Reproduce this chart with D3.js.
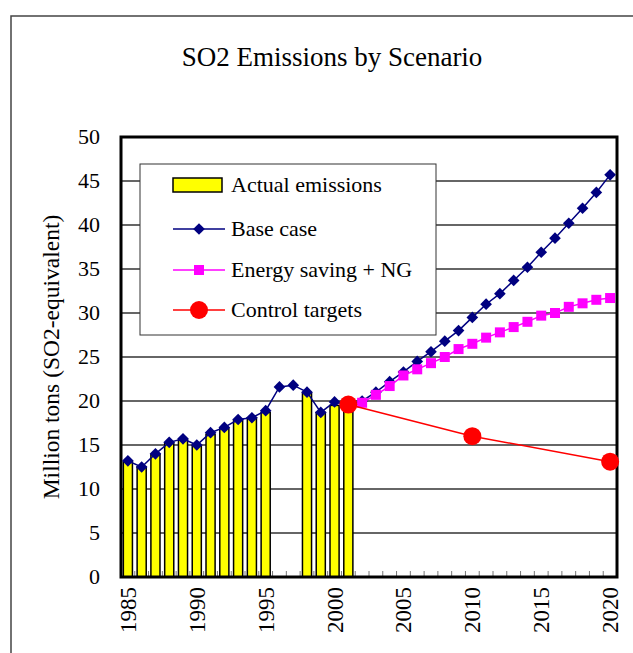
<!DOCTYPE html>
<html>
<head>
<meta charset="utf-8">
<script src="https://cdn.jsdelivr.net/npm/d3@7"></script>
<style>
  body { margin: 0; background: #fff; }
  text { font-family: "Liberation Serif", "Times New Roman", serif; fill: #000; }
</style>
</head>
<body>
<script>
// years on the category axis
var years = d3.range(1985, 2021);
var tickYears = [1985, 1990, 1995, 2000, 2005, 2010, 2015, 2020];
var yTicks = [0, 5, 10, 15, 20, 25, 30, 35, 40, 45, 50];

// actual emissions (bars), null where no bar
var actual = [13.1, 12.5, 13.9, 15.2, 15.6, 14.9, 16.2, 16.9, 17.8, 18.1, 18.7,
  null, null, 20.9, 18.7, 19.5, 19.3];

// base case 1985-2020
var baseCase = [13.2, 12.5, 14.0, 15.3, 15.7, 15.0, 16.4, 17.0, 17.9, 18.1, 18.9,
  21.6, 21.8, 21.0, 18.7, 19.9, 19.5, 20.0, 21.0, 22.2, 23.3, 24.5, 25.6, 26.8,
  28.0, 29.5, 31.0, 32.2, 33.7, 35.2, 36.9, 38.5, 40.2, 41.9, 43.7, 45.7];

// energy saving + NG, 2001-2020
var energyYears = d3.range(2001, 2021);
var energy = [19.5, 19.8, 20.7, 21.7, 22.9, 23.6, 24.3, 25.0, 25.9, 26.5, 27.2,
  27.8, 28.4, 29.0, 29.7, 30.0, 30.7, 31.1, 31.5, 31.7];

// control targets
var targetYears = [2001, 2010, 2020];
var targets = [19.6, 16.0, 13.1];

var width = 633, height = 653;
// plot area edges
var pLeft = 121, pRight = 617, pTop = 137, pBottom = 577;

var svg = d3.select('body').append('svg')
  .attr('width', width)
  .attr('height', height);

// outer chart frame
svg.append('rect')
  .attr('x', 11).attr('y', 16)
  .attr('width', 640).attr('height', 660)
  .attr('fill', 'none')
  .attr('stroke', '#444')
  .attr('stroke-width', 1.5);

svg.append('text')
  .attr('x', 332).attr('y', 66)
  .attr('text-anchor', 'middle')
  .style('font-size', '27px')
  .text('SO2 Emissions by Scenario');

var x = d3.scaleBand()
  .domain(years)
  .range([pLeft, pRight])
  .paddingInner(0.34)
  .paddingOuter(0.17);

var y = d3.scaleLinear()
  .domain([0, 50])
  .range([pBottom, pTop]);

function cx(yr) { return x(yr) + x.bandwidth() / 2; }

// gridlines
svg.append('g')
  .selectAll('line')
  .data(yTicks.slice(1, -1))
  .enter().append('line')
  .attr('x1', pLeft).attr('x2', pRight)
  .attr('y1', function(d) { return y(d); })
  .attr('y2', function(d) { return y(d); })
  .attr('stroke', '#333')
  .attr('stroke-width', 1.3);

// y axis labels
svg.append('g')
  .selectAll('text')
  .data(yTicks)
  .enter().append('text')
  .attr('x', 100)
  .attr('y', function(d) { return y(d) + 7; })
  .attr('text-anchor', 'end')
  .style('font-size', '22px')
  .text(function(d) { return d; });

svg.append('text')
  .attr('transform', 'translate(59,' + (pTop + pBottom) / 2 + ') rotate(-90)')
  .attr('text-anchor', 'middle')
  .style('font-size', '23.5px')
  .text('Million tons (SO2-equivalent)');

// bottom category ticks
var step = x.step();
svg.append('g')
  .selectAll('line')
  .data(d3.range(1, years.length))
  .enter().append('line')
  .attr('x1', function(i) { return pLeft + i * step; })
  .attr('x2', function(i) { return pLeft + i * step; })
  .attr('y1', pBottom).attr('y2', pBottom - 6)
  .attr('stroke', '#777')
  .attr('stroke-width', 1);

// bars
svg.append('g')
  .selectAll('rect')
  .data(actual.map(function(v, i) { return { year: 1985 + i, v: v }; })
    .filter(function(d) { return d.v != null; }))
  .enter().append('rect')
  .attr('x', function(d) { return x(d.year); })
  .attr('width', x.bandwidth())
  .attr('y', function(d) { return y(d.v); })
  .attr('height', function(d) { return pBottom - y(d.v); })
  .attr('fill', '#ffff00')
  .attr('stroke', '#000')
  .attr('stroke-width', 1.5);

// plot frame
svg.append('rect')
  .attr('x', pLeft).attr('y', pTop)
  .attr('width', pRight - pLeft).attr('height', pBottom - pTop)
  .attr('fill', 'none')
  .attr('stroke', '#000')
  .attr('stroke-width', 3);

// x tick labels
svg.append('g')
  .selectAll('text')
  .data(tickYears)
  .enter().append('text')
  .attr('transform', function(d) { return 'translate(' + (cx(d) + 8) + ',' + (pBottom + 10) + ') rotate(-90)'; })
  .attr('text-anchor', 'end')
  .style('font-size', '23px')
  .text(function(d) { return d; });

var line = d3.line()
  .x(function(d) { return cx(d[0]); })
  .y(function(d) { return y(d[1]); });

var basePts = years.map(function(yr, i) { return [yr, baseCase[i]]; });
var energyPts = energyYears.map(function(yr, i) { return [yr, energy[i]]; });
var targetPts = targetYears.map(function(yr, i) { return [yr, targets[i]]; });

var diamond = d3.symbol().type(d3.symbolSquare).size(68);
var sq = 10;

function drawBase(g, pts) {
  g.append('path').datum(pts)
    .attr('d', line).attr('fill', 'none')
    .attr('stroke', '#000080').attr('stroke-width', 1.5);
  g.selectAll('path.m').data(pts).enter().append('path')
    .attr('class', 'm')
    .attr('d', diamond)
    .attr('transform', function(d) { return 'translate(' + cx(d[0]) + ',' + y(d[1]) + ') rotate(45)'; })
    .attr('fill', '#000080');
}

function drawEnergy(g, pts) {
  g.append('path').datum(pts)
    .attr('d', line).attr('fill', 'none')
    .attr('stroke', '#ff00ff').attr('stroke-width', 1.5);
  g.selectAll('rect').data(pts).enter().append('rect')
    .attr('x', function(d) { return cx(d[0]) - sq / 2; })
    .attr('y', function(d) { return y(d[1]) - sq / 2; })
    .attr('width', sq).attr('height', sq)
    .attr('fill', '#ff00ff');
}

function drawTargets(g, pts) {
  g.append('path').datum(pts)
    .attr('d', line).attr('fill', 'none')
    .attr('stroke', '#ff0000').attr('stroke-width', 1.5);
  g.selectAll('circle').data(pts).enter().append('circle')
    .attr('cx', function(d) { return cx(d[0]); })
    .attr('cy', function(d) { return y(d[1]); })
    .attr('r', 9)
    .attr('fill', '#ff0000');
}

drawBase(svg.append('g'), basePts);
drawEnergy(svg.append('g'), energyPts);
drawTargets(svg.append('g'), targetPts);

// legend
var legend = svg.append('g');
legend.append('rect')
  .attr('x', 140).attr('y', 164)
  .attr('width', 296).attr('height', 171)
  .attr('fill', '#fff')
  .attr('stroke', '#333')
  .attr('stroke-width', 1);

var legendNames = ['Actual emissions', 'Base case', 'Energy saving + NG', 'Control targets'];
var legendY = [185, 229, 270, 310];

legend.append('rect')
  .attr('x', 173).attr('y', 178)
  .attr('width', 49).attr('height', 14)
  .attr('fill', '#ffff00')
  .attr('stroke', '#000')
  .attr('stroke-width', 1.5);

var lg = [
  { color: '#000080', y: legendY[1] },
  { color: '#ff00ff', y: legendY[2] },
  { color: '#ff0000', y: legendY[3] }
];
legend.selectAll('line.l').data(lg).enter().append('line')
  .attr('class', 'l')
  .attr('x1', 173).attr('x2', 225)
  .attr('y1', function(d) { return d.y; })
  .attr('y2', function(d) { return d.y; })
  .attr('stroke', function(d) { return d.color; })
  .attr('stroke-width', 1.5);

legend.append('path')
  .attr('d', diamond)
  .attr('transform', 'translate(199,' + legendY[1] + ') rotate(45)')
  .attr('fill', '#000080');
legend.append('rect')
  .attr('x', 199 - sq / 2).attr('y', legendY[2] - sq / 2)
  .attr('width', sq).attr('height', sq)
  .attr('fill', '#ff00ff');
legend.append('circle')
  .attr('cx', 199).attr('cy', legendY[3])
  .attr('r', 9)
  .attr('fill', '#ff0000');

legend.selectAll('text').data(legendNames).enter().append('text')
  .attr('x', 231)
  .attr('y', function(d, i) { return legendY[i] + 7; })
  .style('font-size', '22px')
  .text(function(d) { return d; });
</script>
</body>
</html>
